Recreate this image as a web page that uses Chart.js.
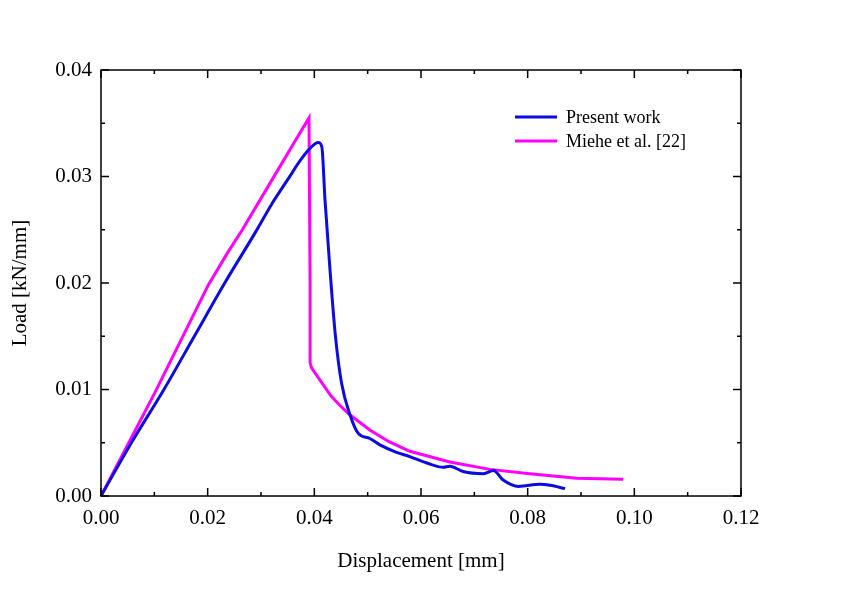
<!DOCTYPE html>
<html>
<head>
<meta charset="utf-8">
<script src="https://cdn.jsdelivr.net/npm/chart.js@4/dist/chart.umd.min.js"></script>
<style>
  html, body { margin: 0; padding: 0; background: #fff; }
  canvas { display: block; }
</style>
</head>
<body>
<canvas id="loadChart" width="842" height="596"></canvas>
<script>
// values
const presentX = [0, 0.0057, 0.0118, 0.0175, 0.0232, 0.029, 0.032, 0.035, 0.0375, 0.0395, 0.0407,
   0.0414, 0.042, 0.0429, 0.0439, 0.0451, 0.0467, 0.0482, 0.0504, 0.0523, 0.0554, 0.0579, 0.0611,
   0.0642, 0.0654, 0.0679, 0.0717, 0.0736, 0.0754, 0.0783, 0.0823, 0.0842, 0.087];
const presentY = [0, 0.005, 0.010, 0.015, 0.020, 0.0248, 0.0274, 0.0297, 0.0316, 0.0328, 0.0332,
   0.0328, 0.0278, 0.0215, 0.0153, 0.0106, 0.0076, 0.0059, 0.0054, 0.0048, 0.0041, 0.0037, 0.0031,
   0.0027, 0.0028, 0.0023, 0.0021, 0.0024, 0.0015, 0.0009, 0.0011, 0.0010, 0.0007];

const mieheX = [0, 0.0102, 0.0201, 0.0238, 0.0265, 0.0322, 0.036, 0.0390, 0.0392, 0.0392, 0.0395,
   0.0431, 0.0448, 0.0467, 0.0504, 0.054, 0.0579, 0.0654, 0.0729, 0.0804, 0.0892, 0.0979];
const mieheY = [0, 0.0098, 0.0198, 0.0229, 0.025, 0.0298, 0.0330, 0.0355, 0.0200, 0.0125, 0.0120,
   0.0094, 0.0085, 0.0076, 0.0062, 0.0051, 0.0042, 0.0032, 0.0025, 0.0021, 0.00166, 0.00157];

const seriesNames = ['Present work', 'Miehe et al. [22]'];
const seriesColors = ['#0c0ce0', '#ff00ff'];

const xMajor = 0.02, xMinor = 0.01;
const yMajor = 0.01, yMinor = 0.005;

const toPoints = (xs, ys) => xs.map((x, i) => ({ x: x, y: ys[i] }));

const serif = 'Liberation Serif, Times New Roman, serif';

// inward ticks on all four sides plus the box
const frameTicks = {
   id: 'frameTicks',
   afterDatasetsDraw(chart) {
      const { ctx, chartArea: a, scales: { x, y } } = chart;
      ctx.save();
      ctx.strokeStyle = '#000';
      ctx.lineWidth = 1.5;
      ctx.strokeRect(a.left, a.top, a.right - a.left, a.bottom - a.top);
      ctx.beginPath();
      const nx = Math.round((x.max - x.min) / xMinor);
      for (let i = 0; i <= nx; i++) {
         const v = x.min + i * xMinor;
         const px = x.getPixelForValue(v);
         const len = (i % Math.round(xMajor / xMinor) === 0) ? 8 : 4;
         ctx.moveTo(px, a.bottom); ctx.lineTo(px, a.bottom - len);
         ctx.moveTo(px, a.top); ctx.lineTo(px, a.top + len);
      }
      const ny = Math.round((y.max - y.min) / yMinor);
      for (let i = 0; i <= ny; i++) {
         const v = y.min + i * yMinor;
         const py = y.getPixelForValue(v);
         const len = (i % Math.round(yMajor / yMinor) === 0) ? 8 : 4;
         ctx.moveTo(a.left, py); ctx.lineTo(a.left + len, py);
         ctx.moveTo(a.right, py); ctx.lineTo(a.right - len, py);
      }
      ctx.stroke();

      // legend inside the plot
      ctx.font = '18px ' + serif;
      ctx.textBaseline = 'middle';
      ctx.fillStyle = '#000';
      chart.data.datasets.forEach((ds, i) => {
         const ly = 117 + i * 24;
         ctx.strokeStyle = ds.borderColor;
         ctx.lineWidth = 3;
         ctx.beginPath();
         ctx.moveTo(515, ly); ctx.lineTo(557, ly);
         ctx.stroke();
         ctx.fillText(ds.label, 566, ly + 1);
      });
      ctx.restore();
   }
};

const ctx = document.getElementById('loadChart').getContext('2d');
const loadChart = new Chart(ctx, {
   type: 'line',
   data: {
      datasets: [{
         label: seriesNames[0],
         data: toPoints(presentX, presentY),
         borderColor: seriesColors[0],
         borderWidth: 3,
         pointRadius: 0,
         cubicInterpolationMode: 'monotone',
         fill: false
      }, {
         label: seriesNames[1],
         data: toPoints(mieheX, mieheY),
         borderColor: seriesColors[1],
         borderWidth: 3,
         pointRadius: 0,
         tension: 0,
         fill: false
      }]
   },
   options: {
      responsive: false,
      animation: false,
      layout: { padding: { left: 0, right: 101, top: 70, bottom: 0 } },
      plugins: {
         legend: { display: false },
         tooltip: { enabled: false }
      },
      scales: {
         x: {
            type: 'linear',
            min: 0,
            max: 0.12,
            grid: { display: false, drawTicks: false },
            border: { display: false },
            ticks: {
               stepSize: xMajor,
               padding: 10,
               color: '#000',
               font: { family: serif, size: 21 },
               callback: v => v.toFixed(2)
            },
            title: {
               display: true,
               text: 'Displacement [mm]',
               color: '#000',
               font: { family: serif, size: 21 },
               padding: { top: 0, bottom: 22 }
            },
            afterFit: s => { s.height = 100; }
         },
         y: {
            min: 0,
            max: 0.04,
            grid: { display: false, drawTicks: false },
            border: { display: false },
            ticks: {
               stepSize: yMajor,
               padding: 9,
               color: '#000',
               font: { family: serif, size: 21 },
               callback: v => v.toFixed(2)
            },
            title: {
               display: true,
               text: 'Load [kN/mm]',
               color: '#000',
               font: { family: serif, size: 21 },
               padding: { top: 8, bottom: 10 }
            },
            afterFit: s => { s.width = 101; }
         }
      }
   },
   plugins: [frameTicks]
});
</script>
</body>
</html>
